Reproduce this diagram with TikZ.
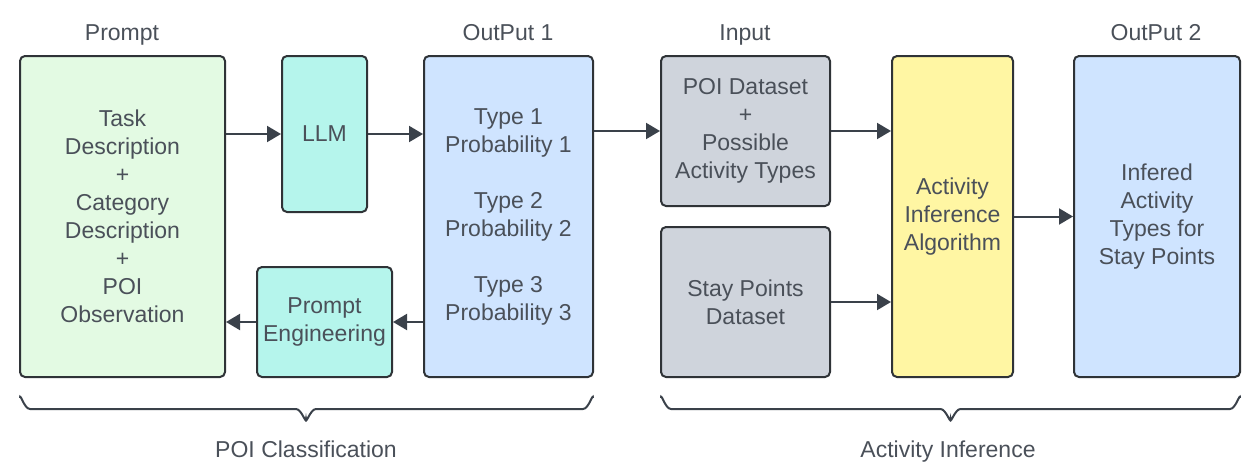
\documentclass[tikz,border=0pt]{standalone}
\usepackage{fontspec}
\setmainfont{Liberation Sans}
\usetikzlibrary{arrows.meta}
\definecolor{cgreen}{HTML}{E3FAE3}
\definecolor{cteal}{HTML}{B5F5EC}
\definecolor{cblue}{HTML}{CFE4FF}
\definecolor{cgray}{HTML}{CFD4DC}
\definecolor{cyellow}{HTML}{FFF6A3}
\definecolor{cbord}{HTML}{2F3337}
\definecolor{carrow}{HTML}{3A414A}
\definecolor{ctext}{HTML}{4A5059}
\begin{document}
\begin{tikzpicture}[x=1pt,y=-1pt,
  box/.style={draw=cbord, line width=2pt, rounded corners=5pt, align=center,
    inner sep=0pt, text=ctext, font=\fontsize{23}{28}\selectfont},
  lbl/.style={text=ctext, font=\fontsize{23}{28}\selectfont, inner sep=0pt, anchor=base},
  arr/.style={draw=carrow, line width=2pt, -{Triangle[length=14pt,width=16pt]}},
  brace/.style={draw=carrow, line width=2pt}]
\useasboundingbox (0,0) rectangle (1257,471);
% boxes
\node[box, fill=cgreen, minimum width=205pt, minimum height=321pt] (prompt) at (122.5,216.5)
  {Task\\Description\\+\\Category\\Description\\+\\POI\\Observation};
\node[box, fill=cteal, minimum width=85pt, minimum height=156pt] (llm) at (324.5,134) {LLM};
\node[box, fill=cblue, minimum width=169pt, minimum height=321pt] (out1) at (508.5,216.5)
  {Type 1\\Probability 1\\[28pt]Type 2\\Probability 2\\[28pt]Type 3\\Probability 3};
\node[box, fill=cteal, minimum width=135pt, minimum height=110pt] (pe) at (324.5,322)
  {Prompt\\Engineering};
\node[box, fill=cgray, minimum width=169pt, minimum height=150pt] (poi) at (745.5,131)
  {POI Dataset\\+\\Possible\\Activity Types};
\node[box, fill=cgray, minimum width=169pt, minimum height=150pt] (stay) at (745.5,302)
  {Stay Points\\Dataset};
\node[box, fill=cyellow, minimum width=121pt, minimum height=321pt] (aia) at (952.5,216.5)
  {Activity\\Inference\\Algorithm};
\node[box, fill=cblue, minimum width=166pt, minimum height=321pt] (out2) at (1157,216.5)
  {Infered\\Activity\\Types for\\Stay Points};
% top labels
\node[lbl] (lprompt) at (122,40) {Prompt};
\node[lbl] (lout1) at (508,40) {OutPut 1};
\node[lbl] (linput) at (745,40) {Input};
\node[lbl] (lout2) at (1156,40) {OutPut 2};
% arrows
\draw[arr] (prompt.east |- llm.west) -- (llm.west);
\draw[arr] (llm.east) -- (llm.east -| out1.west);
\draw[arr] (out1.east |- poi.west) -- (poi.west);
\draw[arr] (poi.east) -- (poi.east -| aia.west);
\draw[arr] (stay.east) -- (stay.east -| aia.west);
\draw[arr] (aia.east |- out2.west) -- (out2.west);
\draw[arr] (out1.west |- pe.east) -- (pe.east);
\draw[arr] (pe.west) -- (pe.west -| prompt.east);
% braces
\draw[brace] (20,398) to[out=90,in=180] (30,409) -- (296,409) to[out=0,in=-90] (306,419)
  to[out=-90,in=180] (316,409) -- (583,409) to[out=0,in=90] (593,398);
\draw[brace] (661,398) to[out=90,in=180] (671,409) -- (940.5,409) to[out=0,in=-90] (950.5,419)
  to[out=-90,in=180] (960.5,409) -- (1230,409) to[out=0,in=90] (1240,398);
\node[lbl] (lpoi) at (306,457) {POI Classification};
\node[lbl] (lact) at (948,457) {Activity Inference};
\end{tikzpicture}
\end{document}
